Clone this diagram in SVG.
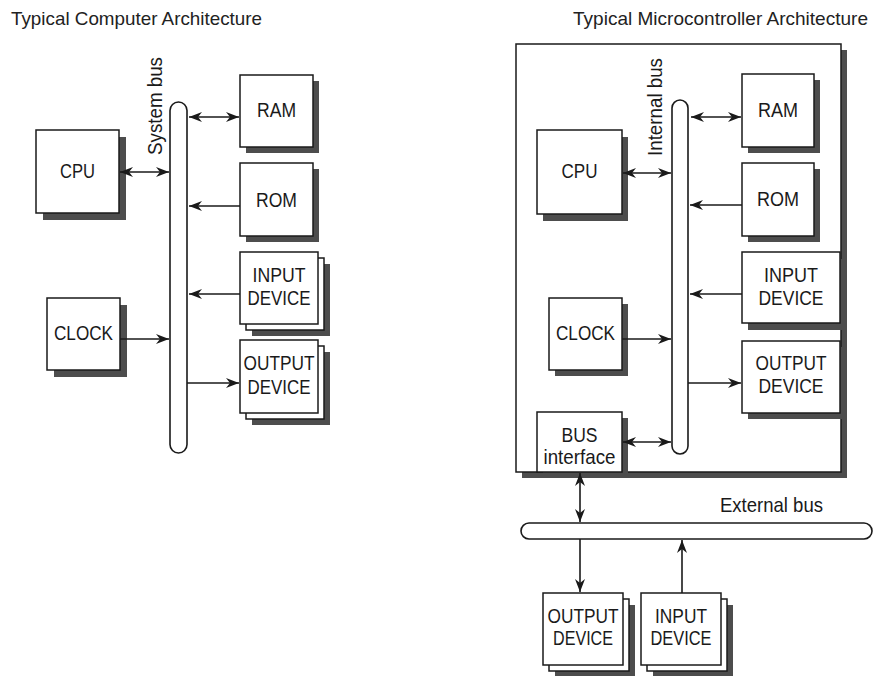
<svg xmlns="http://www.w3.org/2000/svg" width="874" height="676" viewBox="0 0 874 676">
<style>
text{font-family:"Liberation Sans",Arial,sans-serif;fill:#1a1a1a;font-size:21px;text-anchor:middle}
.title{text-anchor:start;fill:#222;font-size:19px}
.box{fill:#fff;stroke:#1a1a1a;stroke-width:1.5}
.sh{fill:#4d4d4d}
.bus{fill:#fff;stroke:#1a1a1a;stroke-width:1.6}
.ln{stroke:#1a1a1a;stroke-width:1.6;fill:none}
</style>
<defs>
<marker id="ah" markerUnits="userSpaceOnUse" markerWidth="14" markerHeight="11" refX="13" refY="5" orient="auto-start-reverse">
<path d="M0,0 L13,5 L0,10 L4,5 Z" fill="#1a1a1a"/>
</marker>
</defs>
<rect width="874" height="676" fill="#fff"/>

<text class="title" x="11" y="25" textLength="251" lengthAdjust="spacingAndGlyphs">Typical Computer Architecture</text>
<text class="title" x="573" y="25" textLength="295" lengthAdjust="spacingAndGlyphs">Typical Microcontroller Architecture</text>

<!-- LEFT -->
<g id="system-bus">
<rect class="bus" x="170" y="102" width="17" height="351" rx="8.5"/>
<text transform="translate(162,106) rotate(-90)" textLength="98" lengthAdjust="spacingAndGlyphs">System bus</text>
</g>
<g id="l-cpu">
<rect class="sh" x="43" y="137" width="83" height="83"/>
<rect class="box" x="36" y="130" width="83" height="83"/>
<text x="77.5" y="178" textLength="35" lengthAdjust="spacingAndGlyphs">CPU</text>
</g>
<g id="l-ram">
<rect class="sh" x="246" y="81" width="73" height="72"/>
<rect class="box" x="240" y="75" width="73" height="72"/>
<text x="276.5" y="117" textLength="39" lengthAdjust="spacingAndGlyphs">RAM</text>
</g>
<g id="l-rom">
<rect class="sh" x="246" y="169" width="73" height="73"/>
<rect class="box" x="240" y="163" width="73" height="73"/>
<text x="276.5" y="207" textLength="41" lengthAdjust="spacingAndGlyphs">ROM</text>
</g>
<g id="l-input">
<rect class="sh" x="252" y="264" width="78" height="72"/>
<rect class="box" x="246" y="258" width="78" height="72"/>
<rect class="box" x="240" y="252" width="78" height="72"/>
<text x="279" y="282" textLength="53" lengthAdjust="spacingAndGlyphs">INPUT</text>
<text x="279" y="305" textLength="63" lengthAdjust="spacingAndGlyphs">DEVICE</text>
</g>
<g id="l-output">
<rect class="sh" x="252" y="352" width="78" height="73"/>
<rect class="box" x="246" y="346" width="78" height="73"/>
<rect class="box" x="240" y="340" width="78" height="73"/>
<text x="279" y="370" textLength="71" lengthAdjust="spacingAndGlyphs">OUTPUT</text>
<text x="279" y="394" textLength="63" lengthAdjust="spacingAndGlyphs">DEVICE</text>
</g>
<g id="l-clock">
<rect class="sh" x="54" y="305" width="73" height="72"/>
<rect class="box" x="47" y="298" width="73" height="72"/>
<text x="83.5" y="340" textLength="59" lengthAdjust="spacingAndGlyphs">CLOCK</text>
</g>

<!-- RIGHT -->
<g id="mcu">
<rect class="sh" x="522" y="50" width="325" height="428"/>
<rect class="box" x="516" y="44" width="325" height="428"/>
</g>
<g id="internal-bus">
<rect class="bus" x="672" y="100" width="16" height="354" rx="8"/>
<text transform="translate(662,107) rotate(-90)" textLength="98" lengthAdjust="spacingAndGlyphs">Internal bus</text>
</g>
<g id="r-ram">
<rect class="sh" x="748" y="80" width="72" height="73"/>
<rect class="box" x="742" y="74" width="72" height="73"/>
<text x="778" y="117" textLength="40" lengthAdjust="spacingAndGlyphs">RAM</text>
</g>
<g id="r-cpu">
<rect class="sh" x="543" y="137" width="85" height="84"/>
<rect class="box" x="537" y="130" width="85" height="84"/>
<text x="579.5" y="178" textLength="36" lengthAdjust="spacingAndGlyphs">CPU</text>
</g>
<g id="r-rom">
<rect class="sh" x="748" y="169" width="72" height="73"/>
<rect class="box" x="742" y="163" width="72" height="73"/>
<text x="778" y="206" textLength="42" lengthAdjust="spacingAndGlyphs">ROM</text>
</g>
<g id="r-input">
<rect class="sh" x="748" y="259" width="98" height="71"/>
<rect class="box" x="742" y="252" width="98" height="71"/>
<text x="791" y="282" textLength="54" lengthAdjust="spacingAndGlyphs">INPUT</text>
<text x="791" y="305" textLength="65" lengthAdjust="spacingAndGlyphs">DEVICE</text>
</g>
<g id="r-output">
<rect class="sh" x="748" y="347" width="98" height="72"/>
<rect class="box" x="742" y="341" width="98" height="72"/>
<text x="791" y="370" textLength="71" lengthAdjust="spacingAndGlyphs">OUTPUT</text>
<text x="791" y="393" textLength="65" lengthAdjust="spacingAndGlyphs">DEVICE</text>
</g>
<g id="r-clock">
<rect class="sh" x="555" y="304" width="73" height="72"/>
<rect class="box" x="549" y="298" width="73" height="72"/>
<text x="585.5" y="340" textLength="59" lengthAdjust="spacingAndGlyphs">CLOCK</text>
</g>
<g id="r-bus-interface">
<rect class="sh" x="543" y="418" width="85" height="60"/>
<rect class="box" x="537" y="412" width="85" height="60"/>
<text x="579.5" y="442" textLength="36" lengthAdjust="spacingAndGlyphs">BUS</text>
<text x="579.5" y="464" textLength="72" lengthAdjust="spacingAndGlyphs">interface</text>
</g>
<g id="external-bus">
<rect class="bus" x="521" y="523" width="351" height="16" rx="8"/>
<text x="771.5" y="512" textLength="103" lengthAdjust="spacingAndGlyphs">External bus</text>
</g>
<g id="b-output">
<rect class="sh" x="555" y="605" width="80" height="72"/>
<rect class="box" x="549" y="599" width="80" height="72"/>
<rect class="box" x="543" y="593" width="80" height="72"/>
<text x="583" y="623" textLength="71" lengthAdjust="spacingAndGlyphs">OUTPUT</text>
<text x="583" y="645" textLength="60" lengthAdjust="spacingAndGlyphs">DEVICE</text>
</g>
<g id="b-input">
<rect class="sh" x="653" y="605" width="80" height="72"/>
<rect class="box" x="647" y="599" width="80" height="72"/>
<rect class="box" x="641" y="593" width="80" height="72"/>
<text x="681" y="623" textLength="52" lengthAdjust="spacingAndGlyphs">INPUT</text>
<text x="681" y="645" textLength="61" lengthAdjust="spacingAndGlyphs">DEVICE</text>
</g>

<g id="connectors">
<line class="ln" x1="120" y1="172" x2="169" y2="172" marker-start="url(#ah)" marker-end="url(#ah)"/>
<line class="ln" x1="189" y1="117" x2="239" y2="117" marker-start="url(#ah)" marker-end="url(#ah)"/>
<line class="ln" x1="240" y1="206" x2="189" y2="206" marker-end="url(#ah)"/>
<line class="ln" x1="240" y1="294" x2="189" y2="294" marker-end="url(#ah)"/>
<line class="ln" x1="120" y1="339" x2="169" y2="339" marker-end="url(#ah)"/>
<line class="ln" x1="187" y1="383" x2="239" y2="383" marker-end="url(#ah)"/>

<line class="ln" x1="691" y1="117" x2="741" y2="117" marker-start="url(#ah)" marker-end="url(#ah)"/>
<line class="ln" x1="623" y1="173" x2="671" y2="173" marker-start="url(#ah)" marker-end="url(#ah)"/>
<line class="ln" x1="742" y1="205" x2="690" y2="205" marker-end="url(#ah)"/>
<line class="ln" x1="742" y1="294" x2="690" y2="294" marker-end="url(#ah)"/>
<line class="ln" x1="622" y1="339" x2="671" y2="339" marker-end="url(#ah)"/>
<line class="ln" x1="688" y1="383" x2="741" y2="383" marker-end="url(#ah)"/>
<line class="ln" x1="623" y1="442" x2="671" y2="442" marker-start="url(#ah)" marker-end="url(#ah)"/>
<line class="ln" x1="580" y1="473" x2="580" y2="522" marker-start="url(#ah)" marker-end="url(#ah)"/>
<line class="ln" x1="580" y1="539" x2="580" y2="592" marker-end="url(#ah)"/>
<line class="ln" x1="682" y1="593" x2="682" y2="540" marker-end="url(#ah)"/>
</g>
</svg>
